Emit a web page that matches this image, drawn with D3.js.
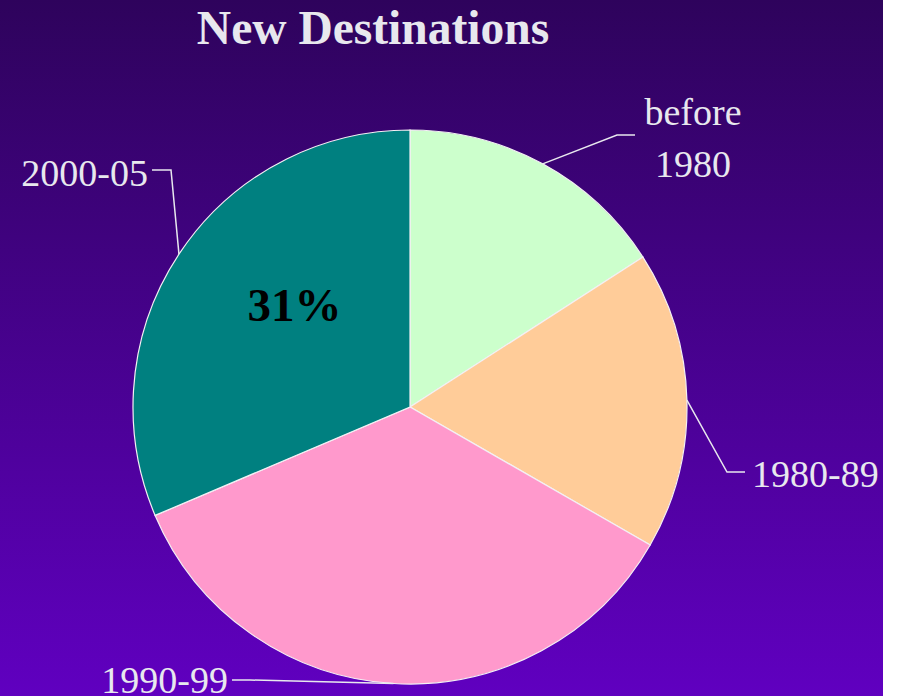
<!DOCTYPE html>
<html lang="en">
  <head>
    <meta charset="UTF-8" />
    <title>New Destinations</title>
    <script src="https://d3js.org/d3.v7.min.js"></script>
    <style>
      body { margin: 0; background: #ffffff; }
      svg { display: block; }
      .lbl { font-family: "Liberation Serif", "Times New Roman", serif; font-size: 38px; fill: #e8e8ee; }
      .title { font-family: "Liberation Serif", "Times New Roman", serif; font-size: 47.5px; font-weight: bold; fill: #e8e8ee; }
      .pct { font-family: "Liberation Serif", "Times New Roman", serif; font-size: 47px; font-weight: bold; fill: #000; }
    </style>
  </head>
  <body>
    <svg width="899" height="696"></svg>
    <script>
      // data (share of new-destination arrivals)
      const periods = ["before 1980", "1980-89", "1990-99", "2000-05"];
      const shares = [15.9, 17.4, 35.3, 31.4];
      const sliceColors = ["#ccffcc", "#ffcc99", "#ff99cc", "#008080"];
      const shownPct = [null, null, null, "31%"];

      // label placement: elbow point, end of horizontal tick, text lines
      const labelLayout = [
        { elbow: [617, 135], end: [635, 135], anchor: "middle", x: 693, lines: [[125, "before"], [177, "1980"]] },
        { elbow: [727, 472], end: [745, 472], anchor: "start", x: 752, lines: [[487, "1980-89"]] },
        { elbow: [250, 680], end: [232, 680], anchor: "end", x: 228, lines: [[693, "1990-99"]] },
        { elbow: [171, 170], end: [152, 170], anchor: "end", x: 148, lines: [[186, "2000-05"]] }
      ];

      const svg = d3.select("svg");
      const cx = 410, cy = 407, r = 277;

      // background gradient
      const defs = svg.append("defs");
      const grad = defs.append("linearGradient")
        .attr("id", "bg").attr("x1", 0).attr("y1", 0).attr("x2", 0).attr("y2", 1);
      grad.append("stop").attr("offset", "0%").attr("stop-color", "#2e035c");
      grad.append("stop").attr("offset", "100%").attr("stop-color", "#6000c0");
      svg.append("rect").attr("width", 883).attr("height", 696).attr("fill", "url(#bg)");

      svg.append("text").attr("class", "title")
        .attr("x", 373).attr("y", 44).attr("text-anchor", "middle")
        .text("New Destinations");

      const pie = d3.pie().sort(null).value(d => d)(shares);
      const arc = d3.arc().innerRadius(0).outerRadius(r);

      const g = svg.append("g").attr("transform", `translate(${cx},${cy})`);
      g.selectAll("path")
        .data(pie)
        .enter()
        .append("path")
        .attr("d", arc)
        .attr("fill", (d, i) => sliceColors[i])
        .attr("stroke", "#f4f0f4")
        .attr("stroke-width", 1.2);

      // leader lines from the middle of each slice's outer edge
      pie.forEach(function (d, i) {
        const a = (d.startAngle + d.endAngle) / 2;
        const p0 = [cx + r * Math.sin(a), cy - r * Math.cos(a)];
        const L = labelLayout[i];
        svg.append("polyline")
          .attr("points", [p0, L.elbow, L.end].map(p => p.join(",")).join(" "))
          .attr("fill", "none")
          .attr("stroke", "#e8e8ee")
          .attr("stroke-width", 1.5);
        L.lines.forEach(function (ln) {
          svg.append("text").attr("class", "lbl")
            .attr("x", L.x).attr("y", ln[0])
            .attr("text-anchor", L.anchor)
            .text(ln[1]);
        });
      });

      // percentage inside the teal slice
      pie.forEach(function (d, i) {
        if (!shownPct[i]) return;
        const a = (d.startAngle + d.endAngle) / 2;
        const rr = r * 0.56;
        svg.append("text").attr("class", "pct")
          .attr("x", cx + rr * Math.sin(a) + 14)
          .attr("y", cy - rr * Math.cos(a))
          .attr("text-anchor", "middle")
          .text(shownPct[i]);
      });
    </script>
  </body>
</html>
